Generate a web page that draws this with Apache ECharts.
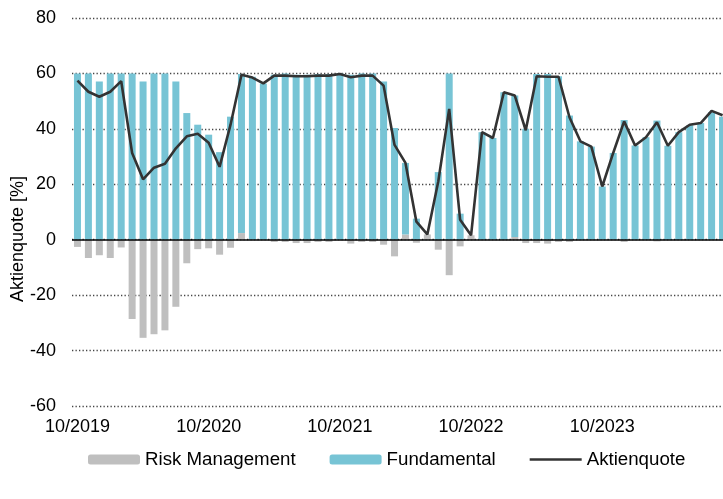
<!DOCTYPE html>
<html>
<head>
    <meta charset="utf-8">
    <title>Aktienquote</title>
    <script src="https://cdn.jsdelivr.net/npm/echarts@6/dist/echarts.min.js"></script>
    <style>
        body { margin: 0; background: #fff; }
    </style>
</head>
<body>
    <div id="main" style="width: 723px;height:499px;"></div>
    <script type="text/javascript">
        // Monate 10/2019 bis 09/2024
        var months = [
            '10/2019','11/2019','12/2019','01/2020','02/2020','03/2020','04/2020','05/2020','06/2020','07/2020','08/2020','09/2020',
            '10/2020','11/2020','12/2020','01/2021','02/2021','03/2021','04/2021','05/2021','06/2021','07/2021','08/2021','09/2021',
            '10/2021','11/2021','12/2021','01/2022','02/2022','03/2022','04/2022','05/2022','06/2022','07/2022','08/2022','09/2022',
            '10/2022','11/2022','12/2022','01/2023','02/2023','03/2023','04/2023','05/2023','06/2023','07/2023','08/2023','09/2023',
            '10/2023','11/2023','12/2023','01/2024','02/2024','03/2024','04/2024','05/2024','06/2024','07/2024','08/2024','09/2024'
        ];

        var riskManagement = [
            -2.6, -6.6, -5.6, -6.6, -2.8, -28.6, -35.4, -34.1, -32.7, -24.2, -8.5, -3.4,
            -3.1, -5.4, -2.9, 2.4, 0, 0, -0.8, -0.8, -1.2, -1.2, -0.8, -0.8,
            0, -1.4, -0.8, -0.8, -1.8, -6.0, 1.9, -1.1, 1.9, -3.6, -12.8, -2.4,
            1.6, 0, 0, 0, 1, -1.2, -1.2, -1.4, -0.8, -0.8, 0, 0,
            0, 0, -0.8, 0, 0, -0.6, 0, 0, 0, 0, 0, 0
        ];

        var fundamental = [
            60, 60, 57.1, 60, 60, 60, 57.1, 60, 60, 57.1, 45.7, 41.5,
            37.9, 31.6, 44.4, 57.4, 58.8, 56.4, 59.5, 60, 59.5, 59.5, 59.8, 59.8,
            60, 59.5, 60, 60, 57.1, 40.3, 25.8, 7.6, 0, 24.4, 60, 9.4,
            0, 38.8, 36.7, 53.2, 51, 40, 59.8, 59.8, 59, 44.8, 35.5, 33.6,
            19.2, 31.3, 43.2, 34, 37, 43, 33.9, 38.8, 41.3, 42.1, 46, 44.4
        ];

        var aktienquote = [
            57.4, 53.4, 51.6, 53.4, 57.2, 31.3, 21.8, 26.0, 27.4, 33.0, 37.3, 38.2,
            35.0, 26.3, 41.5, 59.5, 58.5, 56.4, 59.2, 59.2, 59.0, 59.0, 59.2, 59.2,
            59.8, 58.6, 59.2, 59.2, 55.6, 34.2, 27.7, 6.5, 1.9, 21, 47.2, 7.2,
            1.6, 38.8, 36.7, 53.2, 52, 39.5, 59.0, 58.8, 58.8, 44.2, 35.5, 33.6,
            19.2, 31.3, 42.7, 34, 37, 42.4, 33.9, 38.8, 41.5, 42.1, 46.5, 44.9
        ];

        var yMin = -60, yMax = 80, yStep = 20;

        var font = 'Liberation Sans, Arial, sans-serif';
        var myChart = echarts.init(document.getElementById('main'));

        var option = {
            animation: false,
            backgroundColor: '#ffffff',
            grid: {
                left: 72,
                top: 18,
                bottom: 93,
                width: 656,
                containLabel: false,
                outerBoundsMode: 'none'
            },
            legend: {
                left: 88,
                top: 450,
                padding: 0,
                itemWidth: 52,
                itemHeight: 10,
                itemGap: 34,
                textStyle: { fontFamily: font, fontSize: 18.7, color: '#000' },
                data: [
                    'Risk Management',
                    'Fundamental',
                    { name: 'Aktienquote', icon: 'path://M0,0H52V2.6H0Z' }
                ]
            },
            xAxis: {
                type: 'category',
                data: months,
                boundaryGap: true,
                axisLine: { show: false, onZero: false },
                axisTick: { show: false },
                axisLabel: {
                    interval: function (idx) { return idx % 12 === 0; },
                    fontFamily: font,
                    fontSize: 18,
                    color: '#000',
                    margin: 12
                },
                splitLine: { show: false }
            },
            yAxis: {
                type: 'value',
                min: yMin,
                max: yMax,
                interval: yStep,
                name: 'Aktienquote [%]',
                nameLocation: 'middle',
                nameGap: 45,
                nameMoveOverlap: false,
                nameTextStyle: {
                    fontFamily: font,
                    fontSize: 18,
                    color: '#000',
                    padding: [0, 54, 0, 0]
                },
                axisLine: { show: false },
                axisTick: { show: false },
                axisLabel: {
                    fontFamily: font,
                    fontSize: 18,
                    color: '#000',
                    margin: 16
                },
                splitLine: {
                    show: true,
                    lineStyle: { color: '#444', width: 1.3, type: [1.3, 2.2] }
                }
            },
            series: [
                {
                    name: 'Risk Management',
                    type: 'bar',
                    stack: 'quote',
                    barWidth: 7,
                    itemStyle: { color: '#bfbfbf' },
                    data: riskManagement
                },
                {
                    name: 'Fundamental',
                    type: 'bar',
                    stack: 'quote',
                    barWidth: 7,
                    itemStyle: { color: '#77c4d5' },
                    data: fundamental
                },
                {
                    name: 'Aktienquote',
                    type: 'line',
                    symbol: 'none',
                    lineStyle: { color: '#333333', width: 2.6 },
                    itemStyle: { color: '#333333' },
                    data: aktienquote,
                    markLine: {
                        silent: true,
                        symbol: 'none',
                        label: { show: false },
                        lineStyle: { color: '#000', width: 1.6, type: 'solid' },
                        data: [{ yAxis: 0 }]
                    }
                }
            ]
        };

        myChart.setOption(option);
    </script>
</body>
</html>
